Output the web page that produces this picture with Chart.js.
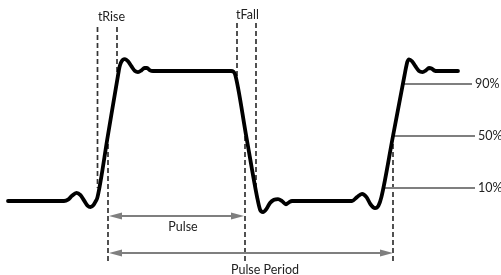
<!DOCTYPE html>
<html>
<head>
<meta charset="utf-8">
<script src="https://cdn.jsdelivr.net/npm/chart.js@4.4.1/dist/chart.umd.min.js"></script>
<style>
  body { margin: 0; background: #fff; }
  #wrap { width: 501px; height: 275px; position: relative; }
</style>
</head>
<body>
<div id="wrap"><canvas id="pulseChart"></canvas></div>
<script>
// Pulse waveform: time (px-like units) and level (% of amplitude)
const waveT = [8, 64, 68, 72, 76.5, 80.5, 84, 87.5, 90.5, 93.5, 95.5, 97.5, 107.8, 118.1, 119.5,
  121, 123, 125, 128, 131.5, 135, 138, 141.5, 144.5, 147, 150, 153, 231, 233.5, 235.3, 246.2, 257.1,
  260, 263, 266.5, 270, 274, 278, 282, 286, 289, 292, 352, 357, 362, 366.5, 370.5, 375, 378.5,
  381.4, 393, 404.6, 406.1, 407.3, 409, 412, 415.5, 419, 422.5, 426, 429, 431.5, 434.5, 437.5, 458];
const waveV = [0, 0, 1, 4, 6.2, 4.5, 0.5, -3.5, -4.6, -3, -0.5, 3, 50, 97, 103,
  106.5, 108.7, 109.2, 107.5, 103.5, 100, 99.2, 100.5, 102.3, 102.3, 100.5, 100, 100, 99.5, 97, 50, 3,
  -6.5, -8.5, -6, -1.5, 1, 1.5, 0, -2.5, -1, 0, 0, 3, 5.5, 3, -2.5, -5.5, -3.5,
  3, 50, 97, 103, 107, 109, 107.5, 103.5, 100, 99.2, 100.5, 102.3, 102, 100.3, 100, 100];

// reference levels on the right
const levelPcts = [90, 50, 10];
const levelLabels = ['90%', '50%', '10%'];
const levelStart = [402, 393, 382];
const levelEnd = [472, 475, 475];

// dashed markers: [time, top level, bottom level]
const riseMarks = [[97.5, 133.8, 10], [117, 133.8, 90]];
const fallMarks = [[237, 136.9, 90], [256, 136.9, 10]];
const pulseEdges = [108, 245, 393];
const markerBottom = -47.7;

// dimension arrows
const pulseArrow = { from: 109, to: 244, level: -11.5, label: 'Pulse', labelT: 183, labelV: -20 };
const periodArrow = { from: 109, to: 393, level: -40, label: 'Pulse Period', labelT: 265, labelV: -53.3 };

function seg(x1, y1, x2, y2) {
    return [{ x: x1, y: y1 }, { x: x2, y: y2 }];
}

const datasets = [];

datasets.push({
    data: waveT.map((t, i) => ({ x: t, y: waveV[i] })),
    borderColor: '#000',
    borderWidth: 3.8,
    cubicInterpolationMode: 'monotone',
    borderCapStyle: 'round',
    borderJoinStyle: 'round',
    order: 0
});

riseMarks.concat(fallMarks).forEach(m => {
    datasets.push({ data: seg(m[0], m[1], m[0], m[2]), borderColor: '#333', borderWidth: 1.7, borderDash: [5, 3], order: 2 });
});
pulseEdges.forEach(t => {
    datasets.push({ data: seg(t, 50, t, markerBottom), borderColor: '#333', borderWidth: 1.7, borderDash: [5, 3], order: 2 });
});
levelPcts.forEach((p, i) => {
    datasets.push({ data: seg(levelStart[i], p, levelEnd[i], p), borderColor: '#7f7f7f', borderWidth: 2, order: 1 });
});
[pulseArrow, periodArrow].forEach(a => {
    datasets.push({ data: seg(a.from + 6, a.level, a.to - 6, a.level), borderColor: '#7f7f7f', borderWidth: 2, order: 1 });
});

const overlay = {
    id: 'overlay',
    afterDatasetsDraw(chart) {
        const ctx = chart.ctx;
        const xs = chart.scales.x, ys = chart.scales.y;
        const px = v => xs.getPixelForValue(v);
        const py = v => ys.getPixelForValue(v);

        // arrow heads
        ctx.save();
        ctx.fillStyle = '#7f7f7f';
        [pulseArrow, periodArrow].forEach(a => {
            const y = py(a.level);
            [[px(a.from), 1], [px(a.to), -1]].forEach(([x, d]) => {
                ctx.beginPath();
                ctx.moveTo(x, y);
                ctx.lineTo(x + d * 13, y - 3.5);
                ctx.lineTo(x + d * 13, y + 3.5);
                ctx.closePath();
                ctx.fill();
            });
        });
        ctx.restore();

        // labels
        ctx.save();
        ctx.fillStyle = '#222';
        ctx.font = '12.5px Lato, "Open Sans", sans-serif';
        ctx.textAlign = 'center';
        ctx.textBaseline = 'middle';
        ctx.fillText('tRise', px(111.5), py(141.9));
        ctx.fillText('tFall', px(247.5), py(143));
        ctx.fillText(pulseArrow.label, px(pulseArrow.labelT), py(pulseArrow.labelV));
        ctx.fillText(periodArrow.label, px(periodArrow.labelT), py(periodArrow.labelV));
        ctx.textAlign = 'left';
        levelPcts.forEach((p, i) => {
            ctx.fillText(levelLabels[i], px(levelEnd[i] + 3), py(p));
        });
        ctx.restore();
    }
};

new Chart(document.getElementById('pulseChart'), {
    type: 'line',
    data: { datasets: datasets },
    options: {
        responsive: true,
        maintainAspectRatio: false,
        animation: false,
        layout: { padding: 0 },
        elements: { point: { radius: 0 } },
        scales: {
            x: { type: 'linear', min: 0, max: 501, display: false },
            y: { type: 'linear', min: -56.92, max: 154.62, display: false }
        },
        plugins: {
            legend: { display: false },
            tooltip: { enabled: false }
        }
    },
    plugins: [overlay]
});
</script>
</body>
</html>
